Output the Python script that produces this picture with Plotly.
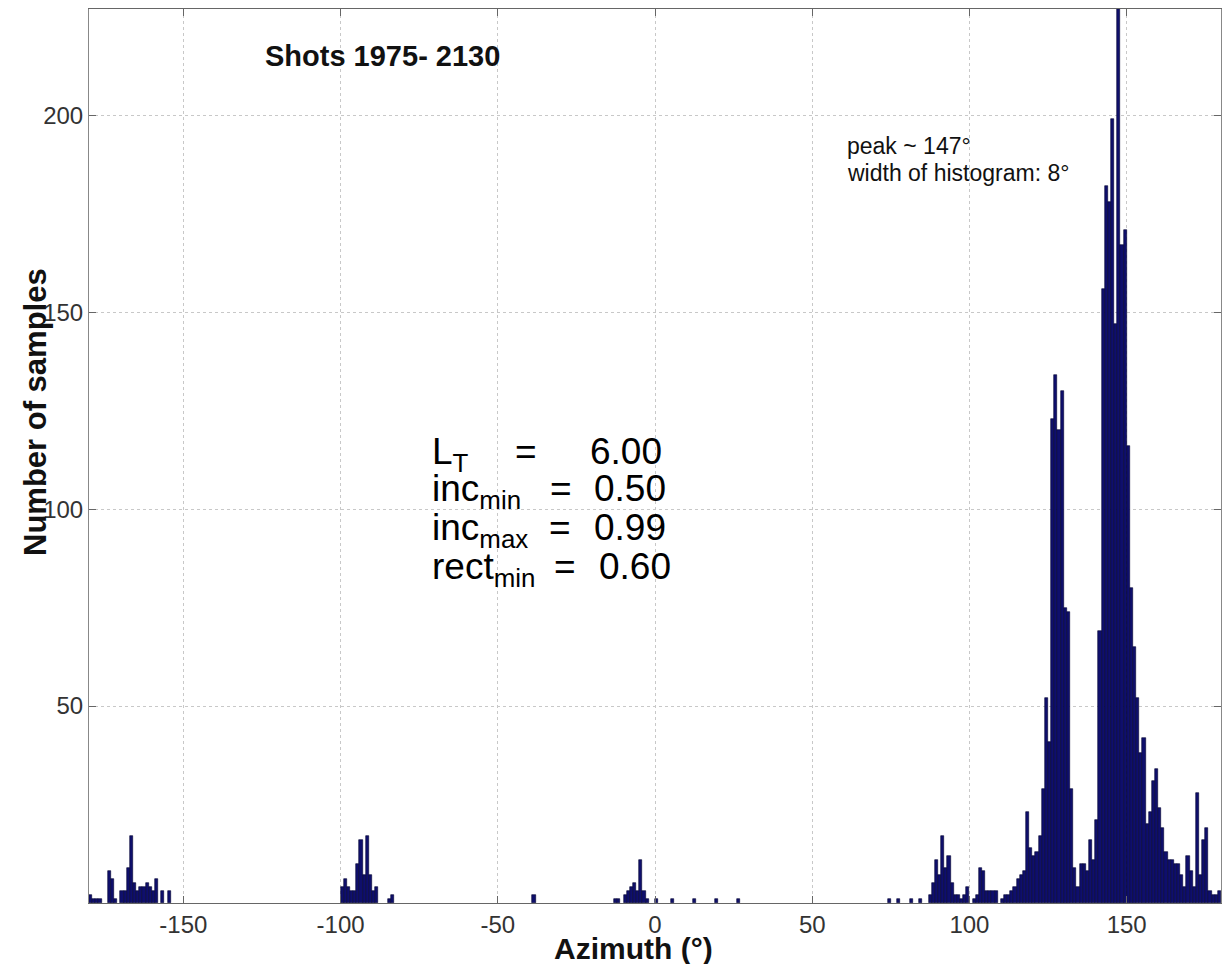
import plotly.graph_objects as go

# Histogram bins (left edge of each 1-degree bin, degrees) and counts (non-zero bins only)
azimuth_bins = [
    -180, -179, -178, -177, -174, -173, -172, -170, -169, -168, -167, -166, -165,
    -164, -163, -162, -161, -160, -159, -157, -155,
    -100, -99, -98, -97, -96, -95, -94, -93, -92, -91, -90, -89, -85, -84,
    -39, -13, -12, -10, -9, -8, -7, -6, -5, -4, -3, 0, 5, 12, 19, 26,
    74, 77, 81, 84, 87, 88, 89, 90, 91, 92, 93, 94, 95, 96, 97, 98, 99,
    101, 102, 103, 104, 105, 106, 107, 108, 110, 111, 112, 113, 114, 115, 116,
    117, 118, 119, 120, 121, 122, 123, 124, 125, 126, 127, 128, 129, 130, 131,
    132, 133, 134, 135, 136, 137, 138, 139, 140, 141, 142, 143, 144, 145, 146,
    147, 148, 149, 150, 151, 152, 153, 154, 155, 156, 157, 158, 159, 160, 161,
    162, 163, 164, 165, 166, 167, 168, 169, 170, 171, 172, 173, 174, 175, 176,
    177, 178, 179,
]
sample_counts = [
    2, 1, 1, 1, 8, 6, 1, 3, 3, 9, 17, 5, 3,
    4, 4, 5, 4, 3, 6, 3, 3,
    4, 6, 4, 3, 3, 10, 16, 7, 17, 7, 3, 4, 1, 2,
    2, 1, 1, 2, 3, 4, 5, 3, 11, 3, 1, 1, 1, 1, 1, 1,
    1, 1, 1, 1, 2, 5, 11, 7, 17, 9, 12, 5, 2, 2, 1, 2, 4,
    1, 2, 9, 8, 3, 3, 3, 3, 1, 2, 2, 3, 4, 6, 7,
    8, 23, 14, 12, 13, 17, 29, 52, 41, 123, 134, 120, 130, 75, 74,
    29, 9, 4, 10, 10, 8, 16, 11, 21, 69, 156, 182, 178, 199, 147,
    227, 167, 171, 116, 80, 65, 52, 38, 42, 20, 23, 31, 34, 24, 19,
    13, 11, 11, 10, 10, 7, 4, 12, 8, 4, 28, 7, 16, 19, 3,
    2, 2, 3,
]
bin_width = 1.0

x_tick_vals = [-150, -100, -50, 0, 50, 100, 150]
x_tick_text = ["-150", "-100", "-50", "0", "50", "100", "150"]
y_tick_vals = [50, 100, 150, 200]
y_tick_text = ["50", "100", "150", "200"]

title_text = "Shots 1975- 2130"
peak_text = "peak ~ 147°"
width_text = "width of histogram: 8°"
param_names = ["L", "inc", "inc", "rect"]
param_subs = ["T", "min", "max", "min"]
param_values = ["6.00", "0.50", "0.99", "0.60"]

W, H = 1222, 964
L, R, T, B = 89, 1, 9, 61
PW, PH = W - L - R, H - T - B


def px(x):
    return (x - L) / PW


def py(y):
    return (H - B - y) / PH


centers = [b + bin_width / 2 for b in azimuth_bins]

fig = go.Figure()
fig.add_trace(go.Bar(
    x=centers, y=sample_counts, width=bin_width,
    marker=dict(color="#0f0f6c", line=dict(color="#000030", width=0.6)),
    showlegend=False,
))

font_main = "Liberation Sans, Arial, sans-serif"
NB = "\u00a0"

annotations = []
annotations.append(dict(text="<b>" + title_text + "</b>", x=px(263), y=py(56),
                        xanchor="left", yanchor="middle", font=dict(size=29, color="#111")))
annotations.append(dict(text=peak_text, x=px(845), y=py(146),
                        xanchor="left", yanchor="middle", font=dict(size=23, color="#111")))
annotations.append(dict(text=width_text, x=px(845), y=py(173),
                        xanchor="left", yanchor="middle", font=dict(size=23, color="#111")))

line_centers = [451, 488, 527, 566]
eq_x = [513, 548, 547, 552]
val_x = [588, 592, 592, 597]
dy = 3
for name, sub, val, yc, ex, vx in zip(param_names, param_subs, param_values, line_centers, eq_x, val_x):
    annotations.append(dict(text=name + "<sub>" + sub + "</sub>", x=px(430), y=py(yc + dy),
                            xanchor="left", yanchor="middle", font=dict(size=37, color="#000")))
    annotations.append(dict(text="=<sub>" + NB + "</sub>", x=px(ex), y=py(yc + dy),
                            xanchor="left", yanchor="middle", font=dict(size=37, color="#000")))
    annotations.append(dict(text=val + "<sub>" + NB + "</sub>", x=px(vx), y=py(yc + dy),
                            xanchor="left", yanchor="middle", font=dict(size=37, color="#000")))

annotations.append(dict(text="<b>Number of samples</b>", x=px(35), y=py(412), textangle=-90,
                        xanchor="center", yanchor="middle", font=dict(size=31, color="#111")))
annotations.append(dict(text="<b>Azimuth (°)</b>", x=px(633), y=py(949),
                        xanchor="center", yanchor="middle", font=dict(size=30, color="#111")))

for a in annotations:
    a.update(xref="paper", yref="paper", showarrow=False)

fig.update_layout(
    width=W, height=H,
    margin=dict(l=L, r=R, t=T, b=B, pad=0),
    paper_bgcolor="white", plot_bgcolor="white",
    bargap=0,
    font=dict(family=font_main, color="#333"),
    annotations=annotations,
    xaxis=dict(
        range=[-180, 180], tickmode="array", tickvals=x_tick_vals, ticktext=x_tick_text,
        showgrid=True, gridcolor="#c8c8c8", griddash="dot", gridwidth=1,
        zeroline=False, showline=True, linecolor="#666", linewidth=1, mirror="ticks",
        ticks="inside", ticklen=7, tickcolor="#666",
        tickfont=dict(size=24, color="#333"),
    ),
    yaxis=dict(
        range=[0, 227], tickmode="array", tickvals=y_tick_vals, ticktext=y_tick_text,
        showgrid=True, gridcolor="#c8c8c8", griddash="dot", gridwidth=1,
        zeroline=False, showline=True, linecolor="#888", linewidth=1, mirror="ticks",
        ticks="inside", ticklen=7, tickcolor="#666",
        tickfont=dict(size=24, color="#333"),
    ),
)

fig.write_html("out.html")
